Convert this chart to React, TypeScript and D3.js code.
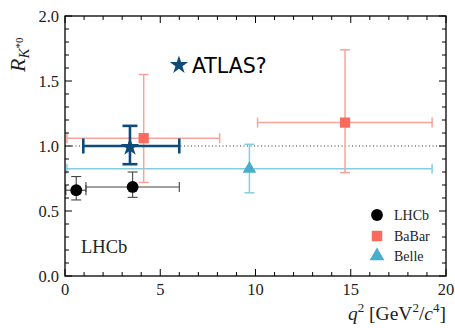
import React from 'react';
import * as d3 from 'd3';

// measurements: [q2 center, q2 low, q2 high, R, R low, R high]
const lhcbPoints = [
    [0.59, 0.045, 1.1, 0.66, 0.585, 0.765],
    [3.55, 1.1, 6.0, 0.685, 0.605, 0.8],
];
const babarPoints = [
    [4.13, 0.1, 8.12, 1.06, 0.72, 1.55],
    [14.7, 10.11, 19.27, 1.18, 0.795, 1.74],
];
const bellePoints = [
    [9.68, 0.1, 19.27, 0.825, 0.64, 1.013],
];
const atlasPoints = [
    [3.41, 0.96, 6.0, 1.0, 0.86, 1.155],
];
const atlasLabel = [5.98, 1.63];
const xTicks = [0, 5, 10, 15, 20];
const yTicks = [0.0, 0.5, 1.0, 1.5, 2.0];
const legendNames = ['LHCb', 'BaBar', 'Belle'];

const W = 455, H = 328;
const margin = { left: 65, right: 9, top: 16, bottom: 52 };
const serif = '"Liberation Serif", "DejaVu Serif", serif';

const colors = {
    lhcb: '#000000',
    babarLine: '#f8a39b',
    babarMark: '#f86b5e',
    belleLine: '#86cde0',
    belleMark: '#48aecb',
    atlas: '#0d4b7a'
};

type Pt = number[];

function ErrorBars({ pts, x, y, color, width, cap }: { pts: Pt[], x: any, y: any, color: string, width: number, cap: number }) {
    return (
        <g stroke={color} strokeWidth={width} fill="none">
            {pts.map((p, i) => {
                const cx = x(p[0]), cy = y(p[3]);
                const x0 = x(p[1]), x1 = x(p[2]);
                const y0 = y(p[4]), y1 = y(p[5]);
                return (
                    <g key={i}>
                        <line x1={x0} x2={x1} y1={cy} y2={cy} />
                        <line x1={cx} x2={cx} y1={y0} y2={y1} />
                        <line x1={x0} x2={x0} y1={cy - cap} y2={cy + cap} />
                        <line x1={x1} x2={x1} y1={cy - cap} y2={cy + cap} />
                        <line x1={cx - cap} x2={cx + cap} y1={y0} y2={y0} />
                        <line x1={cx - cap} x2={cx + cap} y1={y1} y2={y1} />
                    </g>
                );
            })}
        </g>
    );
}

export default function App() {
    const x = d3.scaleLinear().domain([0, 20]).range([margin.left, W - margin.right]);
    const y = d3.scaleLinear().domain([0, 2]).range([H - margin.bottom, margin.top]);
    const [x0, x1] = x.range();
    const [y0, y1] = y.range();

    const xMinor = d3.range(0, 20.01, 1);
    const yMinor = d3.range(0, 2.001, 0.1);

    const circle = d3.symbol().type(d3.symbolCircle).size(110)();
    const square = d3.symbol().type(d3.symbolSquare).size(105)();
    const triangle = d3.symbol().type(d3.symbolTriangle).size(80)();
    const star = d3.symbol().type(d3.symbolStar).size(105)();
    const legSquare = d3.symbol().type(d3.symbolSquare).size(110)();
    const legTriangle = d3.symbol().type(d3.symbolTriangle).size(95)();

    const legX = 377, legY = [215, 236, 256];
    const legMarks = [
        <path d={circle} fill={colors.lhcb} />,
        <path d={legSquare} fill={colors.babarMark} />,
        <path d={legTriangle} fill={colors.belleMark} />
    ];

    return (
        <svg width={W} height={H} style={{ position: 'absolute', left: 0, top: 0, background: '#fff' }}>
            <defs>
                <clipPath id="plot"><rect x={x0} y={y1} width={x1 - x0} height={y0 - y1} /></clipPath>
            </defs>

            {/* reference line at R = 1 */}
            <line x1={x0} x2={x1} y1={y(1)} y2={y(1)} stroke="#333" strokeWidth={1} strokeDasharray="1,2.5" />

            <g clipPath="url(#plot)">
                <ErrorBars pts={bellePoints} x={x} y={y} color={colors.belleLine} width={1.5} cap={5} />
                <ErrorBars pts={babarPoints} x={x} y={y} color={colors.babarLine} width={1.5} cap={5} />
                <ErrorBars pts={lhcbPoints} x={x} y={y} color="#444" width={1.1} cap={5} />
                <ErrorBars pts={atlasPoints} x={x} y={y} color={colors.atlas} width={2.6} cap={7.5} />

                {bellePoints.map((p, i) => <path key={i} d={triangle} fill={colors.belleMark} transform={`translate(${x(p[0])},${y(p[3])})`} />)}
                {babarPoints.map((p, i) => <path key={i} d={square} fill={colors.babarMark} transform={`translate(${x(p[0])},${y(p[3])})`} />)}
                {lhcbPoints.map((p, i) => <path key={i} d={circle} fill={colors.lhcb} transform={`translate(${x(p[0])},${y(p[3])})`} />)}
                {atlasPoints.map((p, i) => <path key={i} d={star} fill={colors.atlas} transform={`translate(${x(p[0])},${y(p[3]) + 1})`} />)}
            </g>

            {/* ATLAS? annotation */}
            <path d={star} fill={colors.atlas} transform={`translate(${x(atlasLabel[0])},${y(atlasLabel[1]) + 1})`} />
            <text x={x(atlasLabel[0]) + 13} y={y(atlasLabel[1]) + 9} fontFamily='"DejaVu Sans", sans-serif' fontSize={20.5} fill="#000">ATLAS?</text>

            {/* ticks */}
            <g stroke="#000" strokeWidth={1}>
                {xMinor.map(v => {
                    const len = v % 5 === 0 ? 7 : 4;
                    return (
                        <g key={'x' + v}>
                            <line x1={x(v)} x2={x(v)} y1={y0} y2={y0 - len} />
                            <line x1={x(v)} x2={x(v)} y1={y1} y2={y1 + len} />
                        </g>
                    );
                })}
                {yMinor.map((v, i) => {
                    const len = i % 5 === 0 ? 7 : 4;
                    return (
                        <g key={'y' + i}>
                            <line x1={x0} x2={x0 + len} y1={y(v)} y2={y(v)} />
                            <line x1={x1} x2={x1 - len} y1={y(v)} y2={y(v)} />
                        </g>
                    );
                })}
            </g>
            <rect x={x0} y={y1} width={x1 - x0} height={y0 - y1} fill="none" stroke="#000" strokeWidth={1.3} />

            {/* tick labels */}
            <g fontFamily={serif} fontSize={16.5} fill="#222">
                {xTicks.map(v => (
                    <text key={v} x={x(v)} y={y0 + 19} textAnchor="middle">{v}</text>
                ))}
                {yTicks.map(v => (
                    <text key={v} x={x0 - 6} y={y(v) + 5.5} textAnchor="end">{v.toFixed(1)}</text>
                ))}
            </g>

            {/* axis labels */}
            <text transform="translate(25,72) rotate(-90)" fontFamily={serif} fill="#222">
                <tspan fontSize={22} fontStyle="italic">R</tspan>
                <tspan fontSize={15} fontStyle="italic" dy={4}>K</tspan>
                <tspan fontSize={11} dy={-6}>*0</tspan>
            </text>
            <text x={x1} y={H - 8} textAnchor="end" fontFamily={serif} fontSize={19.5} fill="#222">
                <tspan fontStyle="italic">q</tspan>
                <tspan fontSize={13} dy={-8}>2</tspan>
                <tspan dy={8}> [GeV</tspan>
                <tspan fontSize={13} dy={-8}>2</tspan>
                <tspan dy={8}>/</tspan>
                <tspan fontStyle="italic">c</tspan>
                <tspan fontSize={13} dy={-8}>4</tspan>
                <tspan dy={8}>]</tspan>
            </text>

            {/* experiment tag */}
            <text x={81} y={253} fontFamily={serif} fontSize={18.5} fill="#222">LHCb</text>

            {/* legend */}
            {legendNames.map((name, i) => (
                <g key={name} transform={`translate(${legX},${legY[i]})`}>
                    {legMarks[i]}
                    <text x={17} y={5} fontFamily={serif} fontSize={14} fill="#222">{name}</text>
                </g>
            ))}
        </svg>
    );
}
